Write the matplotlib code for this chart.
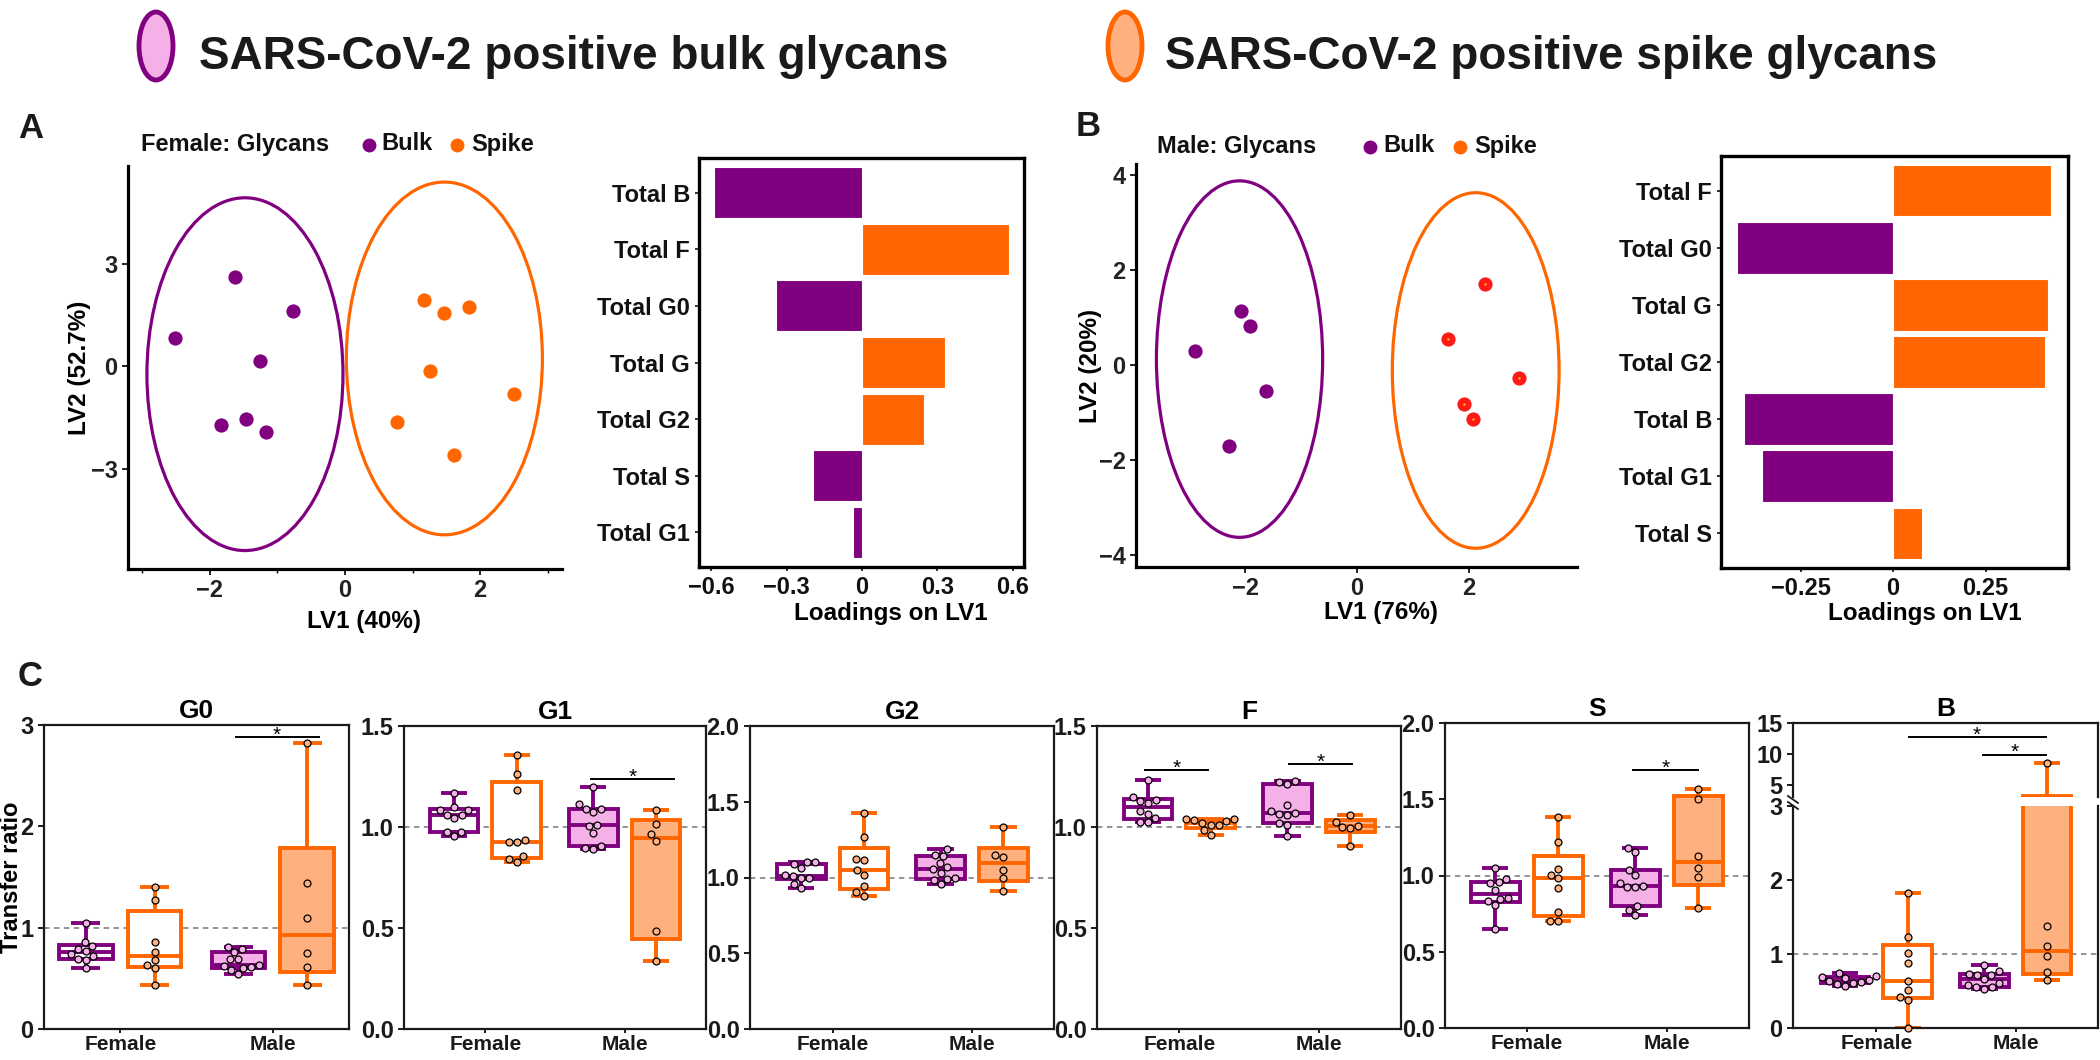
import matplotlib as mpl
mpl.use("Agg")
import matplotlib.pyplot as plt
from matplotlib.patches import Ellipse
from matplotlib import font_manager
import numpy as np

W, H = 2100, 1060

PURPLE = "#800080"
ORANGE = "#FF6600"
PINK = "#F5B0E8"
PEACH = "#FFB07F"
RED = "#FF1A1A"

plt.rcParams['font.family'] = ['Liberation Sans', 'DejaVu Sans']
plt.rcParams['font.weight'] = 'bold'
plt.rcParams['axes.labelweight'] = 'bold'
plt.rcParams['axes.titleweight'] = 'bold'

# ---------------- data: panel A (female PLS-DA) ----------------
a_bulk_lv1 = [-1.62, -0.77, -2.51, -1.26, -1.84, -1.47, -1.17]
a_bulk_lv2 = [2.60, 1.63, 0.83, 0.15, -1.73, -1.54, -1.92]
a_spike_lv1 = [1.17, 1.47, 1.84, 1.26, 2.50, 0.77, 1.61]
a_spike_lv2 = [1.93, 1.55, 1.73, -0.14, -0.82, -1.62, -2.59]
# ellipse: centre x, centre y, width, height
a_bulk_ellipse = (-1.48, -0.23, 2.90, 10.32)
a_spike_ellipse = (1.47, 0.23, 2.90, 10.32)

a_load_names = ["Total B", "Total F", "Total G0", "Total G", "Total G2", "Total S", "Total G1"]
a_load_values = [-0.59, 0.584, -0.343, 0.331, 0.247, -0.194, -0.034]

# ---------------- data: panel B (male PLS-DA) ----------------
b_bulk_lv1 = [-2.07, -1.91, -2.90, -1.63, -2.28]
b_bulk_lv2 = [1.14, 0.82, 0.29, -0.55, -1.71]
b_spike_lv1 = [2.28, 1.62, 2.90, 1.91, 2.07]
b_spike_lv2 = [1.70, 0.54, -0.28, -0.82, -1.14]
b_bulk_ellipse = (-2.10, 0.12, 2.97, 7.51)
b_spike_ellipse = (2.12, -0.12, 2.98, 7.49)

b_load_names = ["Total F", "Total G0", "Total G", "Total G2", "Total B", "Total G1", "Total S"]
b_load_values = [0.428, -0.422, 0.419, 0.410, -0.404, -0.354, 0.078]

# ---------------- data: panel C (transfer ratios) ----------------
g0_fem_bulk = [1.05, 0.82, 0.86, 0.79, 0.77, 0.74, 0.69, 0.68, 0.72, 0.60]
g0_fem_spike = [1.40, 1.27, 0.86, 0.76, 0.68, 0.63, 0.60, 0.43]
g0_male_bulk = [0.81, 0.76, 0.79, 0.69, 0.69, 0.63, 0.625, 0.605, 0.585, 0.61, 0.54]
g0_male_spike = [2.82, 1.44, 1.10, 0.75, 0.61, 0.43]

g1_fem_bulk = [1.17, 1.086, 1.061, 1.086, 1.10, 1.047, 1.061, 0.976, 0.976, 0.954]
g1_fem_spike = [1.358, 1.264, 1.183, 0.935, 0.928, 0.928, 0.855, 0.841, 0.829]
g1_male_bulk = [1.197, 1.113, 1.09, 1.075, 1.09, 1.004, 1.01, 0.971, 0.905, 0.898, 0.89]
g1_male_spike = [1.086, 1.017, 0.963, 0.931, 0.485, 0.336]

g2_fem_bulk = [1.086, 1.101, 1.105, 1.062, 1.0, 1.015, 1.0, 1.007, 0.954, 0.932]
g2_fem_spike = [1.429, 1.266, 1.119, 1.116, 1.048, 1.018, 0.945, 0.903, 0.881]
g2_male_bulk = [1.191, 1.145, 1.147, 1.095, 1.053, 1.068, 1.0, 0.993, 1.031, 0.985, 0.956]
g2_male_spike = [1.332, 1.149, 1.136, 1.051, 0.996, 0.912]

f_fem_bulk = [1.235, 1.127, 1.134, 1.150, 1.119, 1.08, 1.066, 1.047, 1.027, 1.025]
f_fem_spike = [1.038, 1.012, 1.022, 1.035, 1.009, 1.030, 1.042, 0.984, 0.958]
f_male_bulk = [1.215, 1.225, 1.226, 1.108, 1.071, 1.065, 1.061, 1.078, 1.022, 1.009, 0.954]
f_male_spike = [1.058, 1.027, 1.007, 0.996, 1.0, 0.905]

s_fem_bulk = [1.047, 0.955, 0.977, 0.949, 0.907, 0.848, 0.852, 0.835, 0.807, 0.649]
s_fem_spike = [1.381, 1.217, 1.043, 0.986, 1.005, 0.918, 0.763, 0.704, 0.704]
s_male_bulk = [1.18, 1.156, 1.034, 1.001, 0.949, 0.925, 0.933, 0.925, 0.80, 0.776, 0.739]
s_male_spike = [1.567, 1.502, 1.128, 1.047, 0.988, 0.789]

b_fem_bulk = [0.604, 0.744, 0.645, 0.686, 0.60, 0.631, 0.677, 0.564, 0.699, 0.618]
b_fem_spike = [1.822, 1.236, 1.019, 0.88, 0.631, 0.519, 0.415, 0.383, 0.0]
b_male_bulk = [0.857, 0.771, 0.717, 0.735, 0.722, 0.663, 0.609, 0.586, 0.555, 0.555, 0.528]
b_male_spike = [8.5, 1.376, 1.105, 0.979, 0.753, 0.645]

# significance bars: (x start, x end, height)
g0_sig = [(0.757, 1.30, 2.88)]
g1_sig = [(0.758, 1.358, 1.236)]
g2_sig = []
f_sig = [(-0.249, 0.203, 1.282), (0.785, 1.24, 1.31)]
s_sig = [(0.757, 1.226, 1.69)]
b_sig = [(0.232, 1.215, 12.68), (0.765, 1.215, 9.86)]

sexes = ["Female", "Male"]

fig = plt.figure(figsize=(W / 100, H / 100), dpi=100)


def px_axes(l, t, r, b):
    return fig.add_axes([l / W, 1 - b / H, (r - l) / W, (b - t) / H])


def lab(v):
    return f"{v:g}".replace("-", "\u2212")


def scores_panel(box, bx, by, sx, sy, s_color, ell_b, ell_s, xlim, ylim,
                 xticks, xminor, yticks, xlabel, ylabel, xl, yl):
    ax = px_axes(*box)
    for (cx, cy, w, h), col in [(ell_b, PURPLE), (ell_s, ORANGE)]:
        ax.add_patch(Ellipse((cx, cy), w, h, fill=False, ec=col, lw=2.3))
    ax.scatter(bx, by, s=105, color=PURPLE, lw=0, zorder=3)
    ax.scatter(sx, sy, s=105, color=s_color, lw=0, zorder=3)
    if s_color == RED:
        ax.scatter(sx, sy, s=3, color="#FFC000", lw=0, zorder=4)
    ax.set_xlim(xlim)
    ax.set_ylim(ylim)
    for sp in ["top", "right"]:
        ax.spines[sp].set_visible(False)
    for sp in ["left", "bottom"]:
        ax.spines[sp].set_linewidth(2.3)
    ax.set_xticks(xticks, [lab(v) for v in xticks])
    ax.set_xticks(xminor, minor=True)
    ax.set_yticks(yticks, [lab(v) for v in yticks])
    ax.tick_params(labelsize=17, width=1.4, length=4, colors="#222222")
    ax.tick_params(which="minor", length=3, width=1)
    ax.set_xlabel(xlabel, fontsize=17.5)
    ax.xaxis.label.set_va("center")
    ax.xaxis.set_label_coords(*xl)
    ax.set_ylabel(ylabel, fontsize=17.5)
    ax.yaxis.label.set_va("center")
    ax.yaxis.set_label_coords(yl, 0.5)
    return ax


def loadings_panel(box, names, vals, xlim, xticks, xl):
    ax = px_axes(*box)
    n = len(vals)
    cols = [PURPLE if v < 0 else ORANGE for v in vals]
    ax.barh(np.arange(n), vals, height=0.9, color=cols, edgecolor="white", lw=0.8)
    ax.set_ylim(n - 1 + 0.61, -0.61)
    ax.set_xlim(xlim)
    ax.set_yticks(np.arange(n), names)
    ax.set_xticks(xticks, [lab(v) for v in xticks])
    for sp in ax.spines.values():
        sp.set_linewidth(2.4)
    ax.tick_params(labelsize=17, width=1.2, length=3, colors="#111111")
    ax.set_xlabel("Loadings on LV1", fontsize=17.5)
    ax.xaxis.label.set_va("center")
    ax.xaxis.set_label_coords(*xl)
    return ax


scores_panel((128, 166, 562, 569), a_bulk_lv1, a_bulk_lv2, a_spike_lv1, a_spike_lv2,
             ORANGE, a_bulk_ellipse, a_spike_ellipse, (-3.21, 3.21), (-5.93, 5.86),
             [-2, 0, 2], [-3, -1, 1, 3], [-3, 0, 3], "LV1 (40%)", "LV2 (52.7%)",
             (0.544, -0.13), -0.112)
loadings_panel((699, 158, 1024, 567), a_load_names, a_load_values, (-0.648, 0.644),
               [-0.6, -0.3, 0, 0.3, 0.6], (0.59, -0.114))
scores_panel((1136, 164, 1577, 567), b_bulk_lv1, b_bulk_lv2, b_spike_lv1, b_spike_lv2,
             RED, b_bulk_ellipse, b_spike_ellipse, (-3.95, 3.93), (-4.26, 4.23),
             [-2, 0, 2], [], [-4, -2, 0, 2, 4], "LV1 (76%)", "LV2 (20%)",
             (0.555, -0.113), -0.103)
loadings_panel((1721, 156, 2068, 568), b_load_names, b_load_values, (-0.465, 0.473),
               [-0.25, 0, 0.25], (0.587, -0.11))

# ---------------- panel C ----------------
OFFS = 0.225
BOXW = 0.35
FACES = ["white", "white", PINK, PEACH]
EDGES = [PURPLE, ORANGE, PURPLE, ORANGE]
DOTS = [PINK, PEACH, PINK, PEACH]


def box_stats(d):
    d = np.asarray(d, float)
    return dict(med=np.median(d),
                q1=np.percentile(d, 25, method="weibull"),
                q3=np.percentile(d, 75, method="weibull"),
                whislo=d.min(), whishi=d.max(), fliers=[])


def swarm(values, ypx, xpx, dmin=8.0):
    values = np.asarray(values, float)
    offs = np.zeros(len(values))
    placed = []
    cands = sorted(np.arange(-40, 40.25, 0.5), key=lambda c: (abs(c), c))
    for i in np.argsort(values):
        y = values[i] * ypx
        for c in cands:
            if all((c - px) ** 2 + (y - py) ** 2 >= dmin ** 2 for px, py in placed):
                break
        placed.append((c, y))
        offs[i] = c / xpx
    return offs


def style_c(ax, xlim):
    ax.set_xlim(xlim)
    for sp in ax.spines.values():
        sp.set_linewidth(1.6)
        sp.set_color("#1a1a1a")
    ax.tick_params(axis="y", labelsize=17, width=1.4, length=4, colors="#1a1a1a")
    ax.tick_params(axis="x", labelsize=15, width=1.4, length=3, pad=1, colors="#1a1a1a")


def draw_groups(ax, groups, box_px, ylim, keep=None):
    l, t, r, b = box_px
    xl = ax.get_xlim()
    xpx = (r - l) / (xl[1] - xl[0])
    ypx = (b - t) / (ylim[1] - ylim[0])
    for k, d in enumerate(groups):
        pos = (k // 2) + (OFFS if k % 2 else -OFFS)
        ax.bxp([box_stats(d)], positions=[pos], widths=BOXW, capwidths=0.19,
               patch_artist=True, showfliers=False, manage_ticks=False,
               boxprops=dict(facecolor=FACES[k], edgecolor=EDGES[k], lw=2.8),
               medianprops=dict(color=EDGES[k], lw=2.8, solid_capstyle="butt"),
               whiskerprops=dict(color=EDGES[k], lw=2.8),
               capprops=dict(color=EDGES[k], lw=2.8, solid_capstyle="butt"))
        d = np.asarray(d, float)
        offs = swarm(d, ypx, xpx)
        m = np.ones(len(d), bool) if keep is None else keep(d)
        ax.plot(pos + offs[m], d[m], "o", ms=5, mfc=DOTS[k], mec="black", mew=0.9,
                clip_on=False, zorder=5)


def sig_bars(ax, bars):
    for x1, x2, y in bars:
        ax.plot([x1, x2], [y, y], color="black", lw=1.4, zorder=6)
        ax.annotate("*", ((x1 + x2) / 2, y), xytext=(0, -2.5), textcoords="offset points",
                    ha="center", va="baseline", fontsize=15, fontweight="normal")


c_panels = [
    ("G0", (44, 725, 349, 1029), (-0.5, 1.5), (0, 3), [0, 1, 2, 3], "%d",
     [g0_fem_bulk, g0_fem_spike, g0_male_bulk, g0_male_spike], g0_sig),
    ("G1", (404, 726, 706, 1029), (-0.585, 1.585), (0, 1.5), [0, 0.5, 1.0, 1.5], "%.1f",
     [g1_fem_bulk, g1_fem_spike, g1_male_bulk, g1_male_spike], g1_sig),
    ("G2", (750, 726, 1054, 1029), (-0.592, 1.587), (0, 2), [0, 0.5, 1.0, 1.5, 2.0], "%.1f",
     [g2_fem_bulk, g2_fem_spike, g2_male_bulk, g2_male_spike], g2_sig),
    ("F", (1097, 726, 1401, 1029), (-0.591, 1.589), (0, 1.5), [0, 0.5, 1.0, 1.5], "%.1f",
     [f_fem_bulk, f_fem_spike, f_male_bulk, f_male_spike], f_sig),
    ("S", (1445, 723, 1749, 1028), (-0.583, 1.588), (0, 2), [0, 0.5, 1.0, 1.5, 2.0], "%.1f",
     [s_fem_bulk, s_fem_spike, s_male_bulk, s_male_spike], s_sig),
]

for i, (name, box, xlim, ylim, yt, fmt, groups, sig) in enumerate(c_panels):
    ax = px_axes(*box)
    style_c(ax, xlim)
    ax.set_ylim(ylim)
    ax.axhline(1, color="#8a8a8a", lw=1.3, ls=(0, (3, 2.5)), zorder=1)
    draw_groups(ax, groups, box, ylim)
    sig_bars(ax, sig)
    ax.set_xticks([0, 1], sexes)
    ax.set_yticks(yt, [fmt % v for v in yt])
    ax.set_title(name, fontsize=19, pad=5)
    if i == 0:
        ax.set_ylabel("Transfer ratio", fontsize=17)
        ax.yaxis.label.set_va("center")
        ax.yaxis.set_label_coords(-0.105, 0.5)

# B panel with broken y axis
b_groups = [b_fem_bulk, b_fem_spike, b_male_bulk, b_male_spike]
b_xlim = (-0.599, 1.591)
lo_box = (1793, 806, 2098, 1028)
hi_box = (1793, 723, 2098, 797)
ax_lo = px_axes(*lo_box)
style_c(ax_lo, b_xlim)
ax_lo.set_ylim(0, 3)
ax_lo.spines["top"].set_visible(False)
ax_lo.axhline(1, color="#8a8a8a", lw=1.3, ls=(0, (3, 2.5)), zorder=1)
draw_groups(ax_lo, b_groups, lo_box, (0, 3), keep=lambda d: d <= 3)
ax_lo.set_xticks([0, 1], sexes)
ax_lo.set_yticks([0, 1, 2, 3], ["0", "1", "2", "3"])

ax_hi = px_axes(*hi_box)
style_c(ax_hi, b_xlim)
ax_hi.set_ylim(3, 15)
ax_hi.spines["bottom"].set_visible(False)
draw_groups(ax_hi, b_groups, hi_box, (3, 15), keep=lambda d: d > 3)
sig_bars(ax_hi, b_sig)
ax_hi.set_xticks([])
ax_hi.set_yticks([5, 10, 15], ["5", "10", "15"])
ax_hi.set_title("B", fontsize=19, pad=5)

# ---------------- overlay: header, letters, score legends ----------------
ov = fig.add_axes([0, 0, 1, 1])
ov.set_xlim(0, W)
ov.set_ylim(H, 0)
ov.axis("off")

names_installed = {f.name for f in font_manager.fontManager.ttflist}
if "Liberation Sans Narrow" in names_installed:
    hfam, hsize = ["Liberation Sans Narrow", "DejaVu Sans"], 40
else:
    hfam, hsize = ["Liberation Sans", "DejaVu Sans"], 33

for cx, tx, edge, face, txt in [(156, 199, PURPLE, PINK, "SARS-CoV-2 positive bulk glycans"),
                                 (1125, 1165, ORANGE, PEACH, "SARS-CoV-2 positive spike glycans")]:
    ov.add_patch(Ellipse((cx, 46), 34, 68, fc=face, ec=edge, lw=3.5))
    ov.text(tx, 69, txt, family=hfam, fontsize=hsize, fontweight="bold",
            va="baseline", ha="left", color="#1a1a1a")

for x, y, s in [(31, 128, "A"), (1088, 127, "B"), (30, 677, "C")]:
    ov.text(x, y, s, fontsize=25, fontweight="bold", ha="center", va="center", color="#1a1a1a")

for tx, ty, title, bdot, btx, sdot, stx in [(141, 144, "Female: Glycans", 369, 381, 457, 471),
                                            (1157, 146, "Male: Glycans", 1370, 1383, 1460, 1474)]:
    ov.text(tx, ty, title, fontsize=17, ha="left", va="center", color="#111111")
    ov.plot([bdot], [ty + 1], "o", ms=10, color=PURPLE, mew=0)
    ov.text(btx, ty, "Bulk", fontsize=17, ha="left", va="center", color="#111111")
    ov.plot([sdot], [ty + 1], "o", ms=10, color=ORANGE, mew=0)
    ov.text(stx, ty, "Spike", fontsize=17, ha="left", va="center", color="#111111")

# break marks on the B axis
for dy in (0, 6):
    ov.plot([1788, 1798], [796 + dy, 803 + dy], color="#1a1a1a", lw=1.3)

fig.savefig("out.png", dpi=100)
